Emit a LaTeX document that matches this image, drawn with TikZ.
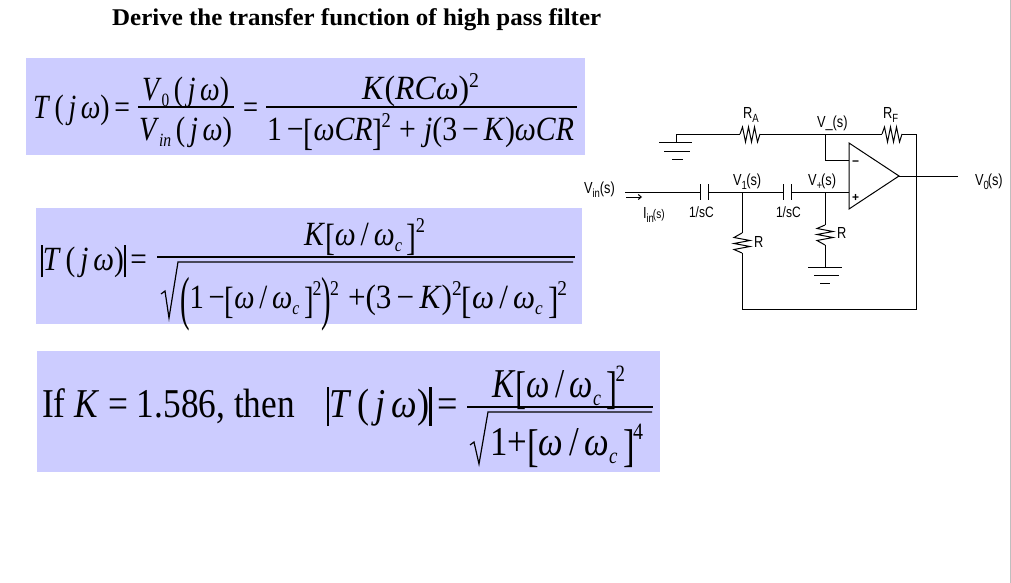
\documentclass[tikz,border=0pt]{standalone}
\usepackage{fontspec}
\usepackage{graphicx}
\usetikzlibrary{arrows.meta}
\setmainfont{Liberation Serif}
\newfontfamily\sansf{Liberation Sans}
\newcommand{\fs}[1]{\fontsize{#1}{#1}\selectfont}
\newcommand{\I}[1]{\textit{#1}}
\newcommand{\W}{\textit{ω}}
\newcommand{\Fit}[2]{\resizebox{#1pt}{1.17\height}{#2}}
% tall brackets and bars for the formulas
\newcommand{\tall}[3]{\raisebox{#2}{\scalebox{1}[#1]{#3}}}
\newcommand{\BL}{\tall{1.12}{-0.15em}{[}}
\newcommand{\BR}{\tall{1.12}{-0.15em}{]}}
\newcommand{\PLb}{\tall{1.75}{-0.3em}{(}}
\newcommand{\PRb}{\tall{1.75}{-0.3em}{)}}
\newcommand{\VB}{\rule[-0.22em]{0.06em}{0.95em}}
\newcommand{\Sb}[1]{\raisebox{-0.2em}{\fs{16}#1}}
\newcommand{\Up}[1]{\raisebox{0.38em}{\fs{18}#1}}
\newcommand{\Sbb}[1]{\raisebox{-0.2em}{\fs{19}#1}}
\newcommand{\Upb}[1]{\raisebox{0.38em}{\fs{20}#1}}
\newcommand{\cs}[1]{\raisebox{-3.5pt}{\fs{9.5}#1}}
\newcommand{\Lb}[1]{\scalebox{1}[1.25]{#1}}
\definecolor{panelc}{HTML}{CCCCFF}
\tikzset{
  panel/.style={fill=panelc,draw=none},
  formula/.style={anchor=base west,inner sep=0pt,outer sep=0pt,font=\fs{29}},
  bigformula/.style={anchor=base west,inner sep=0pt,outer sep=0pt,font=\fs{35}},
  circ/.style={anchor=base west,inner sep=0pt,outer sep=0pt,font=\sansf\fs{12.8}},
  wire/.style={draw=black,line width=1pt,line join=miter},
  bar/.style={draw=black,line width=1.2pt}
}
\begin{document}
\begin{tikzpicture}[x=1pt,y=-1pt]
\useasboundingbox (0,0) rectangle (1011,583);
\fill[white] (0,0) rectangle (1011,583);
\fill[black!25] (1009.6,0) rectangle (1011,583);
\node[anchor=base west,inner sep=0pt,font=\bfseries\fs{24}] (title) at (112,26) {\resizebox{489pt}{\height}{Derive the transfer function of high pass filter}};
% panels
\fill[panel] (26,58) rectangle (585,155);
\fill[panel] (36,208) rectangle (582,324);
\fill[panel] (37,351) rectangle (660,472);
% equation 1
\node[formula] (e1a) at (33,118) {\Fit{97}{\I{T}\,(\,\I{j}\,\W)\,=}};
\coordinate (b1a) at (138,107); \coordinate (b1b) at (234,107);
\draw[bar] (b1a) -- (b1b);
\node[formula] (e1b) at (142,100) {\Fit{87}{\I{V}\Sb{0}\,(\,\I{j}\,\W)}};
\node[formula] (e1c) at (139,140) {\Fit{93}{\I{V}\Sb{\I{in}}\,(\,\I{j}\,\W)}};
\node[formula] (e1d) at (243,118) {\Fit{15}{=}};
\coordinate (b2a) at (266,107); \coordinate (b2b) at (577,107);
\draw[bar] (b2a) -- (b2b);
\node[formula] (e1e) at (362,100) {\Fit{117}{\I{K}(\I{RC}\W)\Up{2}}};
\node[formula] (e1f) at (267,140) {\Fit{307}{1\,−\BL\W\I{CR}\BR\hspace{-1pt}\Up{2}\;+\;\I{j}(3\,−\,\I{K})\W\I{CR}}};
% equation 2
\node[formula] (e2a) at (41,270) {\Fit{106}{\VB\I{T}\,(\,\I{j}\,\W)\VB\,=}};
\coordinate (b3a) at (157,257); \coordinate (b3b) at (575,257);
\draw[bar] (b3a) -- (b3b);
\node[formula] (e2b) at (304,245) {\Fit{121}{\I{K}\BL\W\,/\,\W\Sb{\I{c}}\,\BR\hspace{-1pt}\Up{2}}};
\coordinate (r1) at (161,294); \coordinate (r2) at (165,291); \coordinate (r3) at (169,318);
\coordinate (r4) at (178,262); \coordinate (r5) at (573,262);
\draw[bar,line join=miter] (r1) -- (r2) -- (r3) -- (r4) -- (r5);
\node[formula] (e2c) at (180,308) {\Fit{159}{\PLb 1\,−\BL\W\,/\,\W\Sb{\I{c}}\,\BR\hspace{-1pt}\Up{2}\PRb\hspace{-1pt}\Up{2}}};
\node[formula] (e2d) at (348,308) {\Fit{219}{+(3\,−\,\I{K})\Up{2}\BL\W\,/\,\W\Sb{\I{c}}\,\BR\hspace{-1pt}\Up{2}}};
% equation 3
\node[bigformula] (e3a) at (42,417) {\Fit{253}{If \I{K} = 1.586, then}};
\node[bigformula] (e3b) at (327,417) {\Fit{131}{\VB\I{T}\,(\,\I{j}\,\W)\VB\,=}};
\coordinate (b4a) at (467,407); \coordinate (b4b) at (653,407);
\draw[bar] (b4a) -- (b4b);
\node[bigformula] (e3c) at (492,397) {\Fit{133}{\I{K}\BL\W\,/\,\W\Sbb{\I{c}}\,\BR\hspace{-2pt}\Upb{2}}};
\coordinate (s1) at (470,445); \coordinate (s2) at (474,442); \coordinate (s3) at (479,464);
\coordinate (s4) at (488,412); \coordinate (s5) at (652,412);
\draw[bar] (s1) -- (s2) -- (s3) -- (s4) -- (s5);
\node[bigformula] (e3d) at (490,455) {\Fit{153}{1+\BL\W\,/\,\W\Sbb{\I{c}}\,\BR\hspace{-2pt}\Upb{4}}};
% circuit points
\coordinate (g1) at (676,134); \coordinate (ra1) at (740,134); \coordinate (ra2) at (760,134);
\coordinate (vm) at (825,134); \coordinate (rf1) at (882,134); \coordinate (rf2) at (902,134);
\coordinate (tr) at (916,134); \coordinate (br) at (916,309); \coordinate (bl) at (742,309);
\coordinate (r1b) at (742,253); \coordinate (r1t) at (742,233); \coordinate (n1) at (742,192);
\coordinate (oa1) at (849,143); \coordinate (oa2) at (849,209); \coordinate (oa3) at (899,176);
\coordinate (inm) at (849,160); \coordinate (vmd) at (825,160);
\coordinate (inp) at (849,192); \coordinate (np) at (825,192);
\coordinate (vo) at (958,176); \coordinate (vi) at (625,192);
\coordinate (c1a) at (700,192); \coordinate (c1b) at (708,192);
\coordinate (c2a) at (783,192); \coordinate (c2b) at (791,192);
\coordinate (r2t) at (825,225); \coordinate (r2b) at (825,245); \coordinate (g2) at (825,267);
\coordinate (ar1) at (626,197); \coordinate (ar2) at (642,197);
% op amp
\draw[wire] (oa1) -- (oa2) -- (oa3) -- cycle;
% wires
\draw[wire] (g1) -- (ra1);
\draw[wire] (ra1) -- ++(2.5,-7) -- ++(3,15) -- ++(3,-15) -- ++(3,15) -- ++(3,-15) -- ++(3,15) -- (ra2);
\draw[wire] (ra2) -- (rf1);
\draw[wire] (rf1) -- ++(2.5,-7) -- ++(3,15) -- ++(3,-15) -- ++(3,15) -- ++(3,-15) -- ++(3,15) -- (rf2);
\draw[wire] (rf2) -- (tr) -- (br) -- (bl) -- (r1b);
\draw[wire] (r1b) -- ++(-8,-3.5) -- ++(16,-3) -- ++(-16,-3) -- ++(16,-3) -- ++(-16,-3) -- ++(8,-4.5) -- (r1t);
\draw[wire] (r1t) -- (n1);
\draw[wire] (vm) -- (vmd) -- (inm);
\draw[wire] (oa3) -- (vo);
\draw[wire] (vi) -- (c1a);
\draw[wire] (c1b) -- (c2a);
\draw[wire] (c2b) -- (inp);
\draw[wire] (c1a) ++(0,-8) -- ++(0,16);
\draw[wire] (c1b) ++(0,-8) -- ++(0,16);
\draw[wire] (c2a) ++(0,-8) -- ++(0,16);
\draw[wire] (c2b) ++(0,-8) -- ++(0,16);
\draw[wire] (np) -- (r2t);
\draw[wire] (r2t) -- ++(-8,3.5) -- ++(16,3) -- ++(-16,3) -- ++(16,3) -- ++(-16,3) -- ++(8,4.5) -- (r2b);
\draw[wire] (r2b) -- (g2);
% grounds
\draw[wire] (659,142.7) -- (692,142.7);
\draw[wire] (664,151) -- (690,151);
\draw[wire] (672,159) -- (683,159);
\draw[wire] (g1) -- (676,142.7);
\draw[wire] (808,267) -- (842,267);
\draw[wire] (814,275) -- (839,275);
\draw[wire] (820,283) -- (830,283);
% current arrow
\draw[wire,-{Straight Barb[length=3pt,width=5pt]}] (ar1) -- (ar2);
% labels
\node[circ] (lra) at (743,118) {\Lb{R\cs{A}}};
\node[circ] (lvm) at (817,128) {\Lb{V\_(s)}};
\node[circ] (lrf) at (883,118) {\Lb{R\cs{F}}};
\node[circ] (lvo) at (975,185) {\Lb{V\cs{0}\hspace{-1pt}(s)}};
\node[circ] (lvi) at (584,193) {\Lb{V\cs{in}(s)}};
\node[circ] (lii) at (643,218) {\Lb{I\cs{in}\hspace{-1pt}{\fs{10}(s)}}};
\node[circ,font=\sansf\fs{12}] (lc1) at (689,217) {\Lb{1/sC}};
\node[circ,font=\sansf\fs{12}] (lc2) at (776,217) {\Lb{1/sC}};
\node[circ] (lv1) at (733,185) {\Lb{V\cs{1}\hspace{-0.5pt}(s)}};
\node[circ] (lvp) at (808,185) {\Lb{V\cs{+}\hspace{-1pt}(s)}};
\node[circ] (lr1) at (754,247) {\Lb{R}};
\node[circ] (lr2) at (837,238) {\Lb{R}};
\node[circ,font=\sansf\bfseries\fs{12}] (mn) at (852,165) {−};
\node[circ,font=\sansf\bfseries\fs{12}] (pl) at (852,201) {+};
\end{tikzpicture}
\end{document}
